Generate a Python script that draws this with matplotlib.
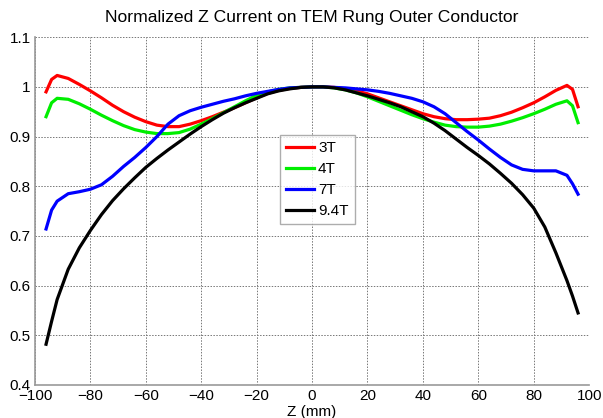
import matplotlib
matplotlib.use("Agg")
import matplotlib.pyplot as plt

plt.rcParams['font.family'] = ['Liberation Sans', 'DejaVu Sans']

# Z positions (mm)
z = [-96, -94, -92, -88, -84, -80, -76, -72, -68, -64, -60, -56, -52, -48, -44,
     -40, -36, -32, -28, -24, -20, -16, -12, -8, -4, 0, 4, 8, 12, 16, 20, 24,
     28, 32, 36, 40, 44, 48, 52, 56, 60, 64, 68, 72, 76, 80, 84, 88, 92, 94, 96]

i_3t = [0.990, 1.015, 1.023, 1.017, 1.005, 0.992, 0.978, 0.963, 0.950, 0.939,
        0.930, 0.923, 0.920, 0.920, 0.925, 0.932, 0.940, 0.949, 0.958, 0.968,
        0.978, 0.987, 0.993, 0.997, 0.999, 1.000, 1.000, 0.999, 0.996, 0.992,
        0.986, 0.978, 0.970, 0.962, 0.954, 0.946, 0.940, 0.936, 0.934, 0.934,
        0.935, 0.937, 0.942, 0.949, 0.958, 0.968, 0.980, 0.993, 1.003, 0.995,
        0.960]

i_4t = [0.940, 0.968, 0.977, 0.975, 0.966, 0.955, 0.943, 0.932, 0.922, 0.914,
        0.909, 0.906, 0.906, 0.908, 0.915, 0.925, 0.936, 0.948, 0.960, 0.972,
        0.983, 0.990, 0.995, 0.998, 0.999, 1.000, 1.000, 0.998, 0.994, 0.988,
        0.980, 0.971, 0.962, 0.953, 0.944, 0.936, 0.929, 0.923, 0.920, 0.919,
        0.919, 0.921, 0.925, 0.931, 0.938, 0.946, 0.955, 0.965, 0.972, 0.962,
        0.928]

i_7t = [0.714, 0.752, 0.770, 0.785, 0.789, 0.794, 0.803, 0.820, 0.840, 0.858,
        0.878, 0.900, 0.925, 0.942, 0.952, 0.959, 0.965, 0.971, 0.976, 0.982,
        0.987, 0.991, 0.995, 0.998, 0.999, 1.000, 1.000, 0.999, 0.998, 0.996,
        0.994, 0.991, 0.987, 0.982, 0.977, 0.970, 0.960, 0.946, 0.928, 0.910,
        0.893, 0.875, 0.858, 0.843, 0.834, 0.831, 0.831, 0.831, 0.822, 0.805,
        0.784]

i_94t = [0.482, 0.528, 0.572, 0.633, 0.676, 0.711, 0.743, 0.771, 0.795, 0.817,
         0.838, 0.856, 0.873, 0.889, 0.905, 0.920, 0.934, 0.947, 0.958, 0.968,
         0.977, 0.986, 0.992, 0.996, 0.999, 1.000, 1.000, 0.998, 0.994, 0.988,
         0.982, 0.975, 0.968, 0.960, 0.950, 0.940, 0.927, 0.912, 0.895, 0.878,
         0.862, 0.845, 0.826, 0.806, 0.783, 0.756, 0.718, 0.666, 0.610, 0.579,
         0.545]

labels = ["3T", "4T", "7T", "9.4T"]
colors = ["#ff0000", "#00ee00", "#0000ff", "#000000"]

fig = plt.figure(figsize=(6.03, 4.18), dpi=100)
ax = fig.add_axes([0.058, 0.079, 0.919, 0.832])

for y, lab, c in zip([i_3t, i_4t, i_7t, i_94t], labels, colors):
    ax.plot(z, y, color=c, linewidth=2.3, label=lab)

ax.set_xlim(-100, 100)
ax.set_ylim(0.4, 1.1)
ax.set_xticks(range(-100, 101, 20))
ax.set_yticks([0.4, 0.5, 0.6, 0.7, 0.8, 0.9, 1.0, 1.1])
ax.set_yticklabels(["0.4", "0.5", "0.6", "0.7", "0.8", "0.9", "1", "1.1"])
ax.grid(True, linestyle=(0, (1.5, 1.5)), color="#777777", linewidth=0.7)
ax.tick_params(labelsize=11, direction="in", length=0, pad=3)

for s in ["top", "right"]:
    ax.spines[s].set_visible(False)
for s in ["left", "bottom"]:
    ax.spines[s].set_color("#999999")
    ax.spines[s].set_linewidth(1.2)

ax.set_title("Normalized Z Current on TEM Rung Outer Conductor", fontsize=12.6, pad=11)
ax.set_xlabel("Z (mm)", fontsize=11, labelpad=1)

leg = ax.legend(loc="upper left", bbox_to_anchor=(0.442, 0.718), fontsize=11,
                frameon=True, fancybox=False, edgecolor="#999999",
                handlelength=1.8, handletextpad=0.3, borderpad=0.4,
                labelspacing=0.45, borderaxespad=0)
leg.get_frame().set_linewidth(1.0)

fig.savefig("out.png", dpi=100)
